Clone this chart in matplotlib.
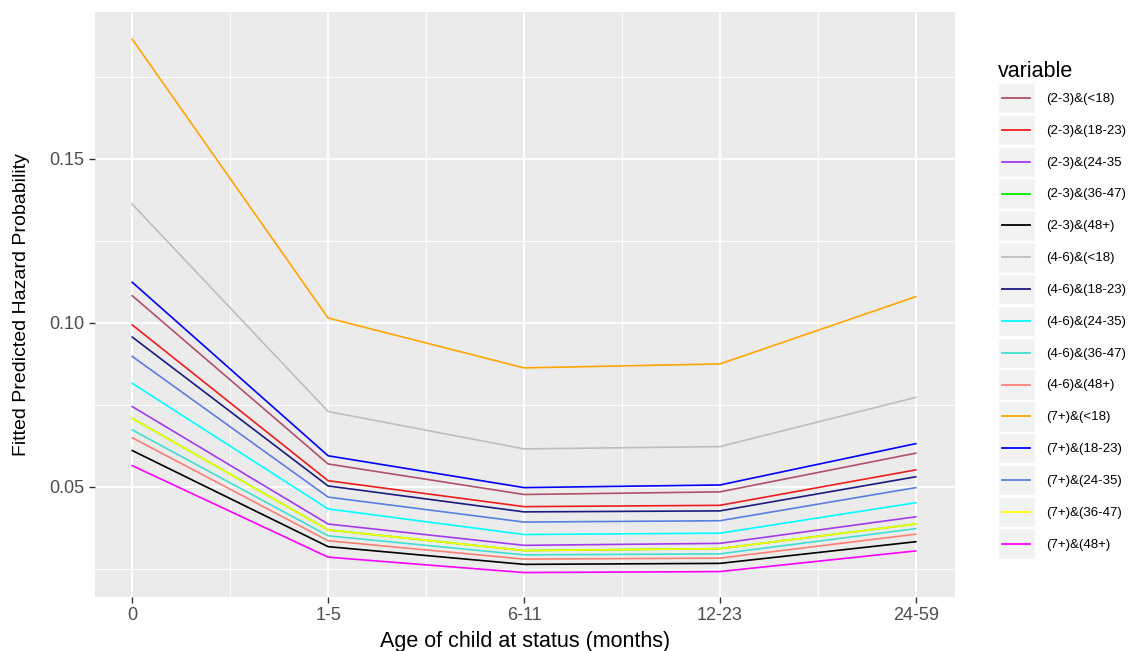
import matplotlib
matplotlib.use("Agg")
import matplotlib.pyplot as plt
from matplotlib.lines import Line2D
from matplotlib.patches import Rectangle
from matplotlib.legend_handler import HandlerLine2D

plt.rcParams['font.family'] = ['Liberation Sans', 'DejaVu Sans']

# age groups on the x axis
ages = ["0", "1-5", "6-11", "12-23", "24-59"]

# series: (birth order)&(mother's age at birth)
labels = ["(2-3)&(<18)", "(2-3)&(18-23)", "(2-3)&(24-35", "(2-3)&(36-47)", "(2-3)&(48+)",
          "(4-6)&(<18)", "(4-6)&(18-23)", "(4-6)&(24-35)", "(4-6)&(36-47)", "(4-6)&(48+)",
          "(7+)&(<18)", "(7+)&(18-23)", "(7+)&(24-35)", "(7+)&(36-47)", "(7+)&(48+)"]
colors = ["#B0506A", "#EE1C1C", "#A23BEC", "#00EE00", "#000000",
          "#BEBEBE", "#1A1A80", "#00FFFF", "#40E0D0", "#FA8072",
          "#FFA500", "#0000FF", "#5B7FE0", "#FFFF00", "#FF00FF"]

v_23_lt18 = [0.1083, 0.0570, 0.0477, 0.0485, 0.0603]
v_23_1823 = [0.0994, 0.0519, 0.0440, 0.0444, 0.0552]
v_23_2435 = [0.0745, 0.0387, 0.0322, 0.0328, 0.0409]
v_23_3647 = [0.0709, 0.0369, 0.0306, 0.0312, 0.0387]   # hidden under (7+)&(36-47)
v_23_48 = [0.0611, 0.0318, 0.0264, 0.0267, 0.0333]
v_46_lt18 = [0.1362, 0.0730, 0.0616, 0.0623, 0.0773]
v_46_1823 = [0.0957, 0.0503, 0.0424, 0.0427, 0.0531]
v_46_2435 = [0.0816, 0.0433, 0.0355, 0.0359, 0.0452]
v_46_3647 = [0.0674, 0.0351, 0.0293, 0.0296, 0.0373]
v_46_48 = [0.0650, 0.0336, 0.0280, 0.0283, 0.0356]
v_7_lt18 = [0.1865, 0.1015, 0.0863, 0.0875, 0.1080]
v_7_1823 = [0.1124, 0.0595, 0.0498, 0.0506, 0.0632]
v_7_2435 = [0.0898, 0.0469, 0.0393, 0.0397, 0.0498]
v_7_3647 = [0.0709, 0.0369, 0.0306, 0.0312, 0.0387]
v_7_48 = [0.0565, 0.0286, 0.0239, 0.0242, 0.0305]

series = [v_23_lt18, v_23_1823, v_23_2435, v_23_3647, v_23_48,
          v_46_lt18, v_46_1823, v_46_2435, v_46_3647, v_46_48,
          v_7_lt18, v_7_1823, v_7_2435, v_7_3647, v_7_48]


class KeyHandler(HandlerLine2D):
    # ggplot-style legend key: grey box with a short line
    def create_artists(self, legend, orig_handle, xdescent, ydescent,
                       width, height, fontsize, trans):
        box = Rectangle((-xdescent, -ydescent), width, height,
                        facecolor="#F2F2F2", edgecolor="white", lw=1.0,
                        transform=trans)
        y = -ydescent + height / 2
        line = Line2D([-xdescent + width * 0.12, -xdescent + width * 0.88], [y, y],
                      color=orig_handle.get_color(), lw=1.3, transform=trans)
        return [box, line]


fig = plt.figure(figsize=(11.42, 6.51), dpi=100)
ax = fig.add_axes([0.0832, 0.083, 0.7530, 0.8986])
ax.set_facecolor("#EBEBEB")

xs = list(range(len(ages)))
handles = []
for lab, col, vals in zip(labels, colors, series):
    h, = ax.plot(xs, vals, color=col, lw=1.2, label=lab)
    handles.append(h)

ax.set_xlim(-0.19, 4.2)
ax.set_ylim(0.01646, 0.1948)
ax.set_xticks(xs)
ax.set_xticklabels(ages)
ax.set_xticks([0.5, 1.5, 2.5, 3.5], minor=True)
ax.set_yticks([0.05, 0.10, 0.15])
ax.set_yticklabels(["0.05", "0.10", "0.15"])
ax.set_yticks([0.025, 0.075, 0.125, 0.175], minor=True)

ax.grid(which="major", color="white", lw=1.3)
ax.grid(which="minor", color="white", lw=0.7)
ax.set_axisbelow(True)
for s in ax.spines.values():
    s.set_visible(False)
ax.tick_params(which="major", colors="#333333", labelcolor="#4D4D4D",
               labelsize=13, length=4, width=1)
ax.tick_params(which="minor", length=0)

ax.set_xlabel("Age of child at status (months)", fontsize=15.5, color="black", labelpad=5)
ax.set_ylabel("Fitted Predicted Hazard Probability", fontsize=14, color="black", labelpad=14)

leg = fig.legend(handles=handles, loc="upper left",
                 bbox_to_anchor=(991 / 1142, 1 - 54 / 651),
                 frameon=False, title="variable", title_fontsize=15.5,
                 fontsize=9.5, alignment="left", borderpad=0,
                 handlelength=2.8, handleheight=3.18, labelspacing=0.1,
                 handletextpad=0.9,
                 handler_map={Line2D: KeyHandler()})

fig.savefig("out.png", dpi=100, facecolor="white")
